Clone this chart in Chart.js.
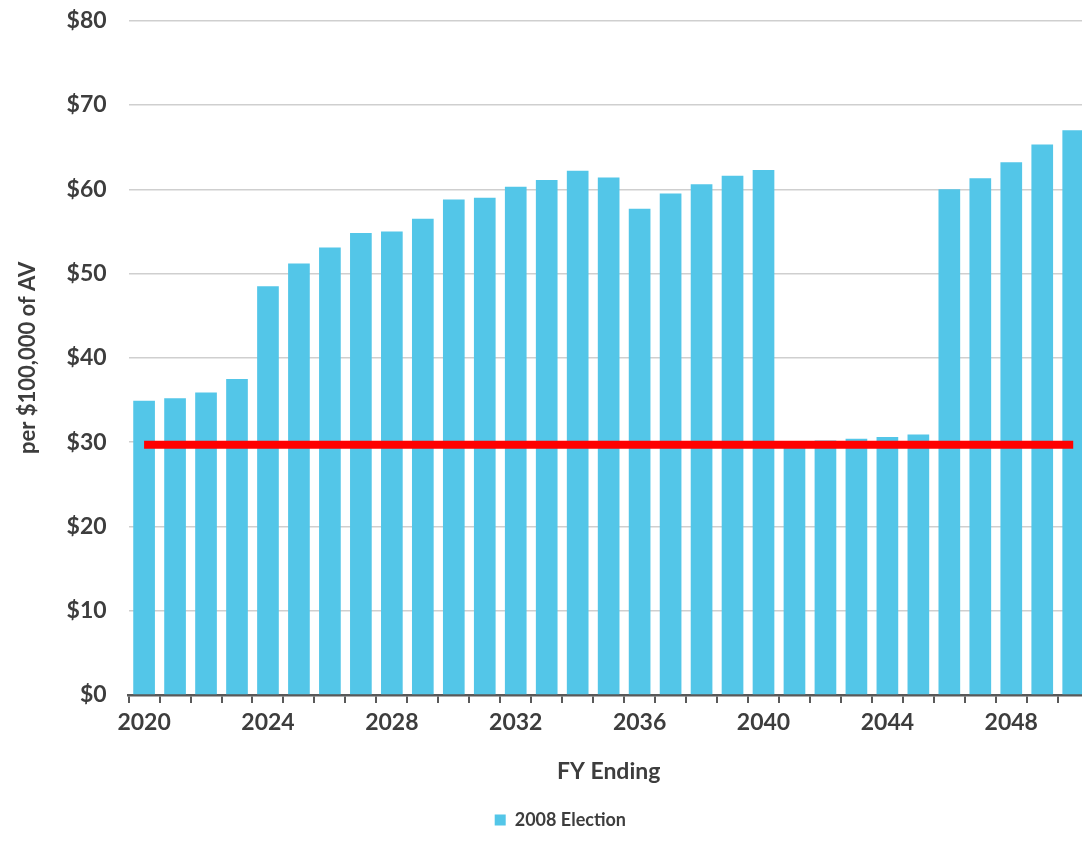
<!DOCTYPE html>
<html><head><meta charset="utf-8">
<script src="https://cdn.jsdelivr.net/npm/chart.js@4.4.1/dist/chart.umd.min.js"></script>
<style>html,body{margin:0;padding:0;overflow:hidden;background:#fff}#wrap{width:1120px;height:841px}</style>
</head><body><div id="wrap"><canvas id="c" width="1120" height="841"></canvas></div>
<script>
const years = ['2020','2021','2022','2023','2024','2025','2026','2027','2028','2029','2030',
  '2031','2032','2033','2034','2035','2036','2037','2038','2039','2040',
  '2041','2042','2043','2044','2045','2046','2047','2048','2049','2050'];
const values2008 = [34.9, 35.2, 35.9, 37.5, 48.5, 51.2, 53.1, 54.8, 55.0, 56.5, 58.8,
  59.0, 60.3, 61.1, 62.2, 61.4, 57.7, 59.5, 60.6, 61.6, 62.3,
  29.6, 30.2, 30.4, 30.6, 30.9, 60.0, 61.3, 63.2, 65.3, 67.0];
const thresholdValues = [29.7, 29.7, 29.7, 29.7, 29.7, 29.7, 29.7, 29.7, 29.7, 29.7, 29.7,
  29.7, 29.7, 29.7, 29.7, 29.7, 29.7, 29.7, 29.7, 29.7, 29.7,
  29.7, 29.7, 29.7, 29.7, 29.7, 29.7, 29.7, 29.7, 29.7, 29.7];
const xTickLabels = ['2020','2024','2028','2032','2036','2040','2044','2048'];
const yTickValues = [0,10,20,30,40,50,60,70,80];
const seriesName = '2008 Election';
const xTitle = 'FY Ending';
const yTitle = 'per $100,000 of AV';

const TXT = '#3d3d3d';
const FONT = 'Lato';

new Chart(document.getElementById('c').getContext('2d'), {
  type: 'bar',
  data: {
    labels: years,
    datasets: [
      {type:'line', label:'Threshold', data: thresholdValues, borderColor:'#FF0000', backgroundColor:'#FF0000',
       borderWidth:8, pointRadius:0, fill:false, order:0, borderCapStyle:'butt', tension:0},
      {label: seriesName, data: values2008, backgroundColor:'#53C6E8', borderWidth:0,
       barPercentage:0.7, categoryPercentage:1.0, order:1}
    ]
  },
  options: {
    responsive:false, animation:false, devicePixelRatio:1,
    layout:{padding:{top:20.7, left:32, right:31.3, bottom:2}},
    plugins:{
      legend:{position:'bottom', labels:{filter:(item)=>item.text!=='Threshold', boxWidth:11, boxHeight:11,
        color:TXT, font:{family:FONT, size:18, weight:'bold'}}},
      tooltip:{enabled:false}
    },
    scales:{
      x:{
        grid:{drawOnChartArea:false, drawTicks:true, tickLength:8, tickColor:'#595959', lineWidth:2, offset:true},
        border:{color:'#595959', width:2.5},
        ticks:{autoSkip:false, maxRotation:0, minRotation:0, padding:6, color:TXT,
          font:{family:FONT, size:23, weight:'bold'},
          callback:function(v){const l=this.getLabelForValue(v); return xTickLabels.includes(l)?l:'';}},
        title:{display:true, text:xTitle, color:TXT, font:{family:FONT, size:23, weight:'bold'}, padding:{top:0,bottom:15.2}},
        afterFit:(s)=>{s.height=106;}
      },
      y:{
        min:0, max:80,
        afterBuildTicks:(s)=>{s.ticks=yTickValues.map(v=>({value:v}));},
        ticks:{padding:0, color:TXT, font:{family:FONT, size:23, weight:'bold'}, callback:(v)=>'$'+v},
        grid:{drawTicks:true, tickLength:22, tickColor:'rgba(0,0,0,0)', color:'#cfcfcf', lineWidth:1.5},
        border:{display:false},
        title:{display:true, text:yTitle, color:TXT, font:{family:FONT, size:22, weight:'bold'}, padding:{top:-17,bottom:0}},
        afterFit:(s)=>{s.width=96.6;}
      }
    }
  }
});
</script></body></html>
